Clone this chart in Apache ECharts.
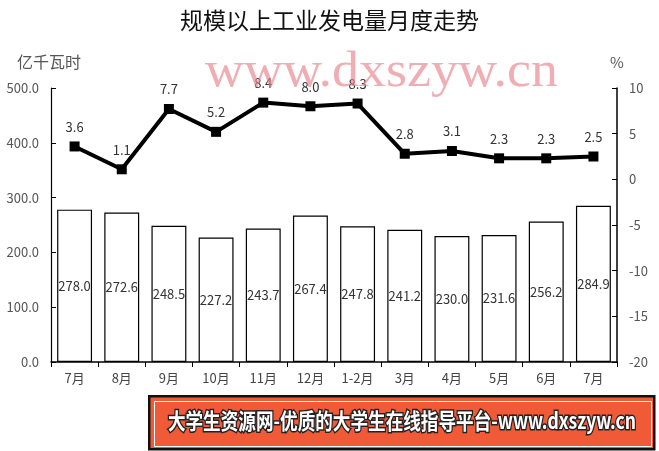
<!DOCTYPE html>
<html><head><meta charset="utf-8">
<script src="https://cdn.jsdelivr.net/npm/echarts@6/dist/echarts.min.js"></script>
<style>html,body{margin:0;padding:0;background:#fff}#c{width:659px;height:451px}</style>
</head><body><div id="c"></div>
<script>
const categories = ['7月','8月','9月','10月','11月','12月','1-2月','3月','4月','5月','6月','7月'];
const output = [278.0,272.6,248.5,227.2,243.7,267.4,247.8,241.2,230.0,231.6,256.2,284.9];
const growth = [3.6,1.1,7.7,5.2,8.4,8.0,8.3,2.8,3.1,2.3,2.3,2.5];
const leftTicks = {min:0,max:500,interval:100};
const rightTicks = {min:-20,max:10,interval:5};

const F = '"Noto Sans CJK SC", "Microsoft YaHei", sans-serif';
const chart = echarts.init(document.getElementById('c'));
chart.setOption({
  animation:false,
  backgroundColor:'#fff',
  title:{text:'规模以上工业发电量月度走势',left:'center',top:4,textStyle:{fontFamily:F,fontSize:23,fontWeight:'normal',color:'#111'}},
  grid:{left:51,right:42,top:88,bottom:89},
  xAxis:{type:'category',data:categories,
    axisLine:{lineStyle:{color:'#000',width:1.5}},
    axisTick:{show:true,lineStyle:{color:'#000'},length:5},
    axisLabel:{fontFamily:F,fontSize:13,color:'#444',margin:10}},
  yAxis:[
    {type:'value',min:leftTicks.min,max:leftTicks.max,interval:leftTicks.interval,
     name:'亿千瓦时',nameLocation:'end',nameGap:18,nameTextStyle:{fontFamily:F,fontSize:16,color:'#555',align:'center',padding:[0,0,0,-4]},
     axisLine:{show:true,lineStyle:{color:'#000',width:1.2}},
     axisTick:{show:true,inside:true,length:5,lineStyle:{color:'#000'}},
     splitLine:{show:false},
     axisLabel:{fontFamily:F,fontSize:13,color:'#555',formatter:v=>v.toFixed(1),margin:12}},
    {type:'value',min:rightTicks.min,max:rightTicks.max,interval:rightTicks.interval,
     name:'%',nameLocation:'end',nameGap:18,nameTextStyle:{fontFamily:F,fontSize:15,color:'#555',align:'center'},
     axisLine:{show:true,lineStyle:{color:'#000',width:1.5}},
     axisTick:{show:true,inside:true,length:5,lineStyle:{color:'#000'}},
     splitLine:{show:false},
     axisLabel:{fontFamily:F,fontSize:13,color:'#555',margin:12}}
  ],
  series:[
    {type:'bar',data:output,yAxisIndex:0,barWidth:'74%',
     itemStyle:{color:'#fff',borderColor:'#000',borderWidth:1.2},
     label:{show:true,position:'inside',fontFamily:F,fontSize:13,color:'#333',formatter:p=>p.value.toFixed(1)}},
    {type:'line',data:growth,yAxisIndex:1,symbol:'rect',symbolSize:10,
     lineStyle:{color:'#000',width:4},itemStyle:{color:'#000'},
     label:{show:true,position:'top',distance:8,fontFamily:F,fontSize:13,color:'#333',formatter:p=>p.value.toFixed(1)}}
  ],
  graphic:[
    {type:'text',x:205,y:48,scaleX:1.08,z:100,style:{text:'www.dxszyw.cn',font:'50px "Liberation Serif", "DejaVu Serif", serif',fill:'rgba(230,130,138,0.65)'}},
    {type:'rect',left:148,top:395,z:100,shape:{width:505,height:53},style:{fill:'#f05a37',stroke:'#111',lineWidth:2.5}},
    {type:'rect',left:152,top:399,z:101,shape:{width:497,height:45},style:{fill:'none',stroke:'#fff',lineWidth:1}},
    {type:'text',x:402,y:421,scaleX:0.8,z:102,style:{text:'大学生资源网-优质的大学生在线指导平台-www.dxszyw.cn',align:'center',verticalAlign:'middle',font:'bold 22px "Noto Sans CJK SC", sans-serif',fill:'#fff',stroke:'#222',lineWidth:3}}
  ]
});
</script></body></html>
